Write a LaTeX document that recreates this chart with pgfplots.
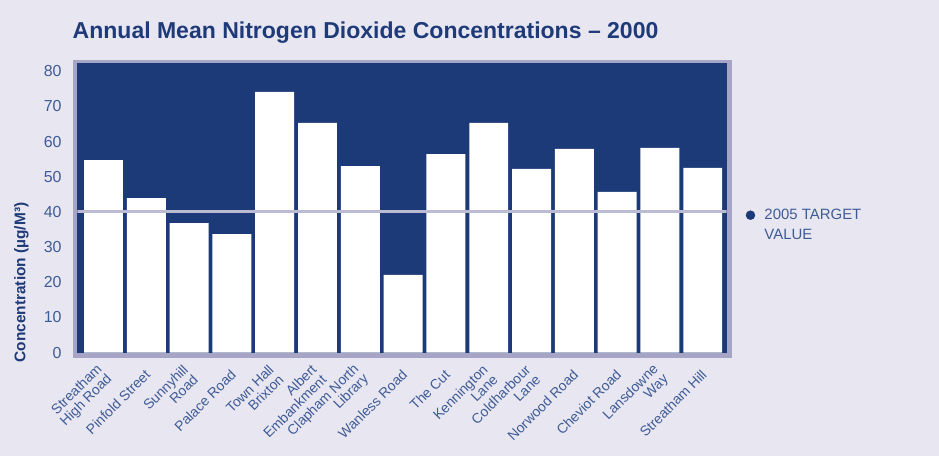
\documentclass[border=0pt]{standalone}
\usepackage{pgfplots}
\pgfplotsset{compat=1.18}
\usepackage{fontspec}
\setmainfont{Liberation Sans}

\definecolor{bg}{HTML}{E8E7F1}
\definecolor{plotbg}{HTML}{1B3A77}
\definecolor{framec}{HTML}{A6A5C6}
\definecolor{target}{HTML}{BCBBD4}
\definecolor{titleblue}{HTML}{1E3A78}
\definecolor{textblue}{HTML}{3F5B96}

\begin{document}
\begin{tikzpicture}[x=1bp,y=1bp]
% page background and plot frame
\fill[bg] (0,0) rectangle (939,456);
\fill[framec] (72.7,98) rectangle (731.7,396);
\node[anchor=base west, inner sep=0, text=titleblue,
      font=\bfseries\fontsize{23.1}{27}\selectfont] at (72.5,417)
      {Annual Mean Nitrogen Dioxide Concentrations – 2000};
\node[rotate=90, inner sep=0, text=titleblue,
      font=\bfseries\fontsize{15.5}{18}\selectfont] at (21.5,173.5)
      {Concentration (µg/M³)};
\begin{axis}[
    at={(77.3bp,103.3bp)}, anchor=south west,
    scale only axis, width=649.4bp, height=290bp,
    xmin=-0.612, xmax=14.56, ymin=0, ymax=82.4,
    axis background/.style={fill=plotbg},
    axis line style={draw=none},
    tick style={draw=none},
    major tick length=0pt,
    ytick={0,10,...,80},
    xtick={0,...,14},
    xticklabels={{Streatham\\High Road},{Pinfold Street},{Sunnyhill\\Road},
      {Palace Road},{Town Hall\\Brixton},{Albert\\Embankment},
      {Clapham North\\Library},{Wanless Road},{The Cut},{Kennington\\Lane},
      {Coldharbour\\Lane},{Norwood Road},{Cheviot Road},{Lansdowne\\Way},
      {Streatham Hill}},
    /pgf/number format/assume math mode=true,
    yticklabel style={anchor=east, inner sep=0pt, xshift=-15.6bp,
      text=textblue, font=\fontsize{16}{19}\selectfont},
    xticklabel style={xshift=1.5bp, yshift=-19.5bp, rotate=45, anchor=east,
      align=right, inner sep=0pt, text=textblue,
      font=\fontsize{14}{14}\selectfont},
    legend style={draw=none, fill=none, at={(rel axis cs:1.034,0.509)},
      anchor=north west, text=textblue, cells={align=left},
      font=\fontsize{15}{20}\selectfont},
]
\addplot[ybar, bar width=0.91, fill=white, draw=none, forget plot]
  coordinates {(0,54.7) (1,43.9) (2,36.8) (3,33.7) (4,74.1) (5,65.3)
    (6,53.0) (7,22.1) (8,56.4) (9,65.3) (10,52.2) (11,57.9) (12,45.7)
    (13,58.2) (14,52.5)};
\addplot[target, line width=3bp, forget plot]
  coordinates {(-0.612,40) (14.56,40)};
\addlegendimage{legend image code/.code={
    \fill[plotbg, overlay] (-8bp,10bp) circle (4.5bp);
    \path[draw=none] (-6.5bp,0bp) -- (4bp,0bp);}}
\addlegendentry{2005 TARGET\\VALUE}
\end{axis}
\end{tikzpicture}
\end{document}
